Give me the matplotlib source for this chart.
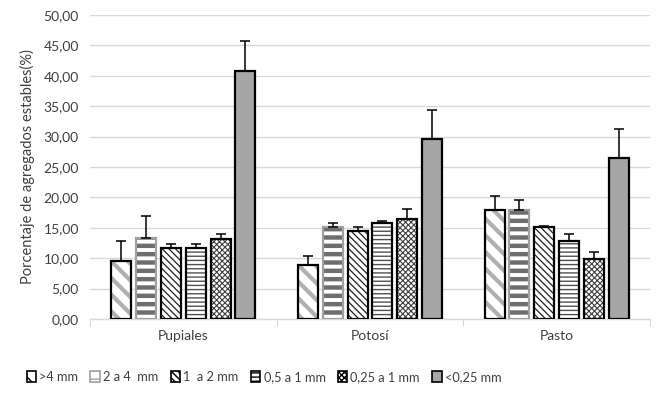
import matplotlib
matplotlib.use("Agg")
import matplotlib.pyplot as plt
import numpy as np
from matplotlib.ticker import FuncFormatter, FixedLocator

plt.rcParams['font.family'] = ['Lato', 'DejaVu Sans']

categories = ["Pupiales", "Potosí", "Pasto"]
series = [">4 mm", "2 a 4  mm", "1  a 2 mm", "0,5 a 1 mm", "0,25 a 1 mm", "<0,25 mm"]
values = [
    [9.5, 8.8, 17.9],
    [13.4, 15.2, 17.9],
    [11.6, 14.4, 15.2],
    [11.7, 15.8, 12.9],
    [13.1, 16.5, 9.9],
    [40.8, 29.6, 26.4],
]
errors = [
    [3.3, 1.5, 2.3],
    [3.6, 0.6, 1.6],
    [0.8, 0.7, 0.1],
    [0.6, 0.4, 1.0],
    [0.9, 1.6, 1.1],
    [5.0, 4.8, 4.9],
]
yticks = [0, 5, 10, 15, 20, 25, 30, 35, 40, 45, 50]

styles = [
    dict(face="white", hatch="\\\\", hcolor="#b0b0b0", hlw=3.0, edge="black"),
    dict(face="white", hatch="--", hcolor="#6e6e6e", hlw=3.2, edge="#a0a0a0"),
    dict(face="white", hatch="\\\\\\\\\\", hcolor="#202020", hlw=0.9, edge="black"),
    dict(face="white", hatch="----", hcolor="#505050", hlw=1.0, edge="black"),
    dict(face="white", hatch="xxxxxx", hcolor="#404040", hlw=0.8, edge="black"),
    dict(face="#a6a6a6", hatch=None, hcolor="#a6a6a6", hlw=1.0, edge="black"),
]

fig = plt.figure(figsize=(6.6, 3.94), dpi=100)
ax = fig.add_axes([90/660, 1-319/394, 560/660, 304/394])

x = np.arange(len(categories))
step = 0.133
width = 0.107
handles = []
for i, (name, vals, errs, st) in enumerate(zip(series, values, errors, styles)):
    pos = x + (i - 2.5) * step
    plt.rcParams['hatch.linewidth'] = st['hlw']
    plt.rcParams['hatch.color'] = st['hcolor']
    bars = ax.bar(pos, vals, width, color=st['face'], hatch=st['hatch'],
                  edgecolor=st['hcolor'], linewidth=0, zorder=2, label=name)
    for b in bars:
        if hasattr(b, 'set_hatch_linewidth'):
            b.set_hatch_linewidth(st['hlw'])
    ax.bar(pos, vals, width, color='none', edgecolor=st['edge'], linewidth=1.6, zorder=3)
    ax.errorbar(pos, vals, yerr=[np.zeros(len(errs)), errs], fmt='none',
                ecolor='black', elinewidth=1.1, capsize=3.5, capthick=1.1, zorder=4)
    handles.append(bars)

ax.set_ylim(0, 50)
ax.set_xlim(-0.5, 2.5)
ax.set_yticks(yticks)
ax.yaxis.set_major_formatter(FuncFormatter(lambda v, p: f"{v:.2f}".replace('.', ',')))
ax.grid(axis='y', color='#d9d9d9', linewidth=1.0, zorder=0)
ax.set_axisbelow(True)
for s in ['left', 'right', 'top']:
    ax.spines[s].set_visible(False)
ax.spines['bottom'].set_color('#d9d9d9')
ax.spines['bottom'].set_linewidth(1.0)
ax.tick_params(axis='y', length=0, labelsize=10, colors='#404040', pad=8)
ax.xaxis.set_major_locator(FixedLocator([-0.5, 0.5, 1.5, 2.5]))
ax.xaxis.set_minor_locator(FixedLocator(x))
ax.xaxis.set_minor_formatter(FuncFormatter(lambda v, p: categories[int(round(v))]))
ax.tick_params(axis='x', which='major', length=5, color='#d9d9d9', labelbottom=False)
ax.tick_params(axis='x', which='minor', length=0, labelsize=10, colors='#404040', pad=8)
ax.set_ylabel("Porcentaje de agregados estables(%)", fontsize=10.5, color='#404040', labelpad=6)

leg = fig.legend(handles=handles, labels=series, loc='center', ncol=6,
                 bbox_to_anchor=(264/660, 1-377/394), frameon=False, fontsize=9.2,
                 handlelength=0.75, handleheight=0.85, handletextpad=0.25, columnspacing=0.95,
                 labelcolor='#404040', borderaxespad=0, borderpad=0)
for h, st in zip(leg.legend_handles, styles):
    h.set_linewidth(1.2)
    h.set_edgecolor(st['edge'] if st['edge'] != 'black' else 'black')

fig.savefig("out.png", dpi=100)
